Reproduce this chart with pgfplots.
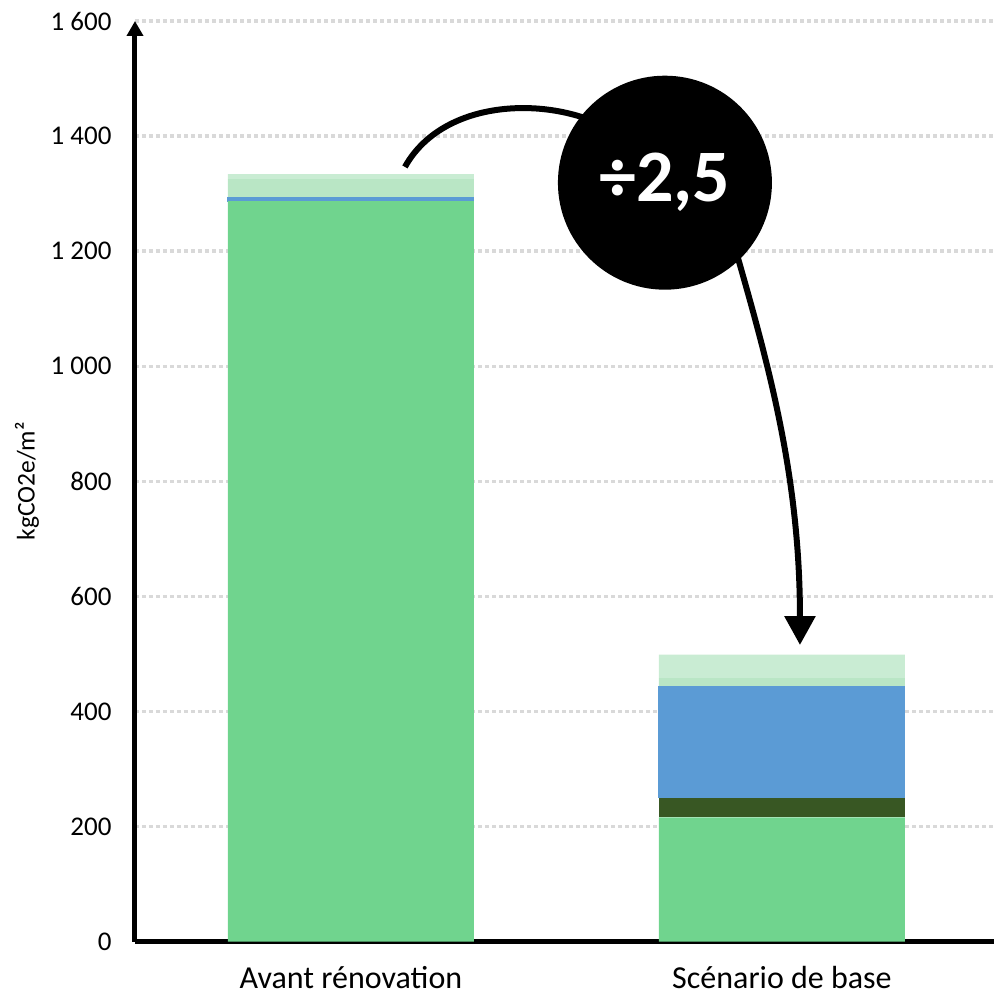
\documentclass[border=0pt]{standalone}
\usepackage{pgfplots}
\pgfplotsset{compat=1.18}
\usepackage{fontspec}
\setmainfont{Carlito}
\usetikzlibrary{arrows.meta}

\definecolor{cGreen}{RGB}{112,212,142}
\definecolor{cDark}{RGB}{56,87,35}
\definecolor{cBlue}{RGB}{91,155,213}
\definecolor{cLight}{RGB}{185,230,197}
\definecolor{cPale}{RGB}{201,236,211}
\definecolor{cGrid}{RGB}{217,217,217}

\begin{document}
\begin{tikzpicture}
\begin{axis}[
  scale only axis, width=859pt, height=920.7pt,
  xmin=-0.501, xmax=1.492, ymin=0, ymax=1600,
  enlargelimits=false,
  ybar stacked, bar width=246pt,
  axis lines=left,
  axis line style={line width=5pt},
  y axis line style={-{Triangle[width=16pt,length=15pt]}},
  x axis line style={-},
  xtick={0,1},
  xticklabels={Avant rénovation,Scénario de base},
  ytick={0,200,...,1600},
  major tick length=0pt,
  ymajorgrids,
  grid style={cGrid, line width=3.5pt, dash pattern=on 4pt off 3pt},
  /pgf/number format/1000 sep={\ },
  /pgf/number format/assume math mode=true,
  yticklabel style={font=\fontsize{27}{28}\selectfont, xshift=-20pt},
  xticklabel style={font=\fontsize{32}{36}\selectfont, yshift=-21pt},
  ylabel={kgCO2e/m²},
  every axis y label/.style={at={(axis description cs:-0.1257,0.5)}, rotate=90, anchor=center, font=\fontsize{25.5}{26}\selectfont},
  clip=false,
]
% bottom to top
\addplot[fill=cGreen, draw=none] coordinates {(0,1287) (1,216)};
\addplot[fill=cDark, draw=none] coordinates {(0,0) (1,34)};
\addplot[fill=cBlue, draw=cBlue, line width=1pt] coordinates {(0,7) (1,193)};
\addplot[fill=cLight, draw=none] coordinates {(0,31) (1,15)};
\addplot[fill=cPale, draw=none] coordinates {(0,9) (1,41)};

\coordinate (O) at (rel axis cs:0,0);

% reduction annotation
\draw[line width=6pt] (axis cs:0.1253,1346.4) .. controls (axis cs:0.2181,1471.5) and (axis cs:0.4849,1471.5) .. (axis cs:0.6241,1402);
\draw[line width=6pt, -{Triangle[width=30pt,length=29pt]}] (axis cs:0.8979,1188.2) .. controls (axis cs:0.9722,993.6) and (axis cs:1.0418,802.4) .. (axis cs:1.0418,515.6);
\node[circle, fill=black, minimum size=214pt, inner sep=0pt, text=white,
      font=\fontsize{74}{74}\selectfont\bfseries] at (axis cs:0.7285,1319) {\raisebox{-3pt}{÷2,5}};
\end{axis}
\pgfresetboundingbox
\path[use as bounding box] (O) ++(-135pt,-53.3pt) rectangle ++(994pt,995pt);
\end{tikzpicture}
\end{document}
